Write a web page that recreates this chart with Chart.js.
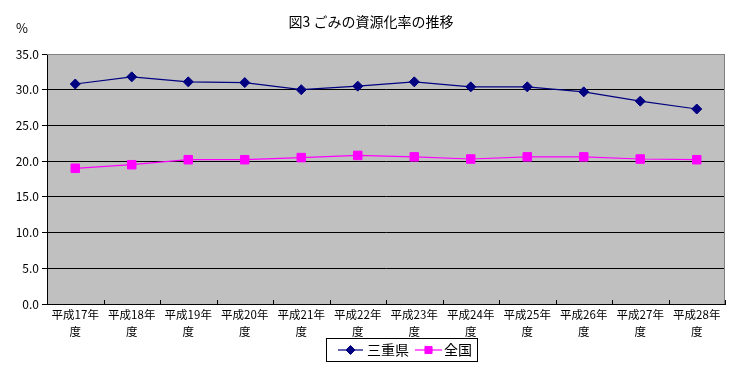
<!DOCTYPE html>
<html><head><meta charset="utf-8">
<script src="https://cdn.jsdelivr.net/npm/chart.js@4"></script>
<style>html,body{margin:0;padding:0;background:#fff}#wrap{width:740px;height:375px;position:relative}</style>
</head><body><div id="wrap"><canvas id="c" width="740" height="375"></canvas></div>
<script>
const categories = [['平成17年','度'],['平成18年','度'],['平成19年','度'],['平成20年','度'],['平成21年','度'],['平成22年','度'],['平成23年','度'],['平成24年','度'],['平成25年','度'],['平成26年','度'],['平成27年','度'],['平成28年','度']];
const mie = [30.8,31.8,31.1,31.0,30.0,30.5,31.1,30.4,30.4,29.7,28.4,27.3];
const zenkoku = [19.0,19.5,20.2,20.2,20.5,20.8,20.6,20.3,20.6,20.6,20.3,20.2];
const seriesNames = ['三重県','全国'];
const titleText = '図3 ごみの資源化率の推移';
const unitText = '%';
const FONT = '"Noto Sans CJK JP","DejaVu Sans",sans-serif';

const deco = {
  id:'deco',
  beforeDraw(chart){
    const {ctx, chartArea:a} = chart;
    ctx.save();
    ctx.fillStyle='#c0c0c0';
    ctx.fillRect(a.left,a.top,a.right-a.left,a.bottom-a.top);
    ctx.restore();
  },
  afterDraw(chart){
    const {ctx, chartArea:a} = chart;
    const xs = chart.scales.x;
    ctx.save();
    ctx.strokeStyle='#808080'; ctx.lineWidth=1;
    ctx.beginPath();
    ctx.moveTo(a.left,a.top+0.5); ctx.lineTo(a.right-0.5,a.top+0.5); ctx.lineTo(a.right-0.5,a.bottom);
    ctx.stroke();
    ctx.strokeStyle='#000';
    ctx.beginPath();
    for(let i=0;i<=categories.length;i++){
      let x;
      if(i===0) x=a.left; else if(i===categories.length) x=a.right;
      else x=(xs.getPixelForTick(i-1)+xs.getPixelForTick(i))/2;
      x=Math.round(x)+0.5;
      ctx.moveTo(x,a.bottom); ctx.lineTo(x,a.bottom-4);
    }
    ctx.stroke();
    ctx.fillStyle='#000';
    ctx.font='14px '+FONT; ctx.textAlign='center'; ctx.textBaseline='middle';
    ctx.fillText(titleText, 371, 22);
    ctx.font='13px '+FONT;
    ctx.fillText(unitText, 22, 28);
    // legend
    const lx=326, ly=338, lw=151, lh=23;
    ctx.fillStyle='#fff'; ctx.fillRect(lx,ly,lw,lh);
    ctx.strokeStyle='#000'; ctx.lineWidth=1; ctx.strokeRect(lx+0.5,ly+0.5,lw,lh);
    const cy=ly+lh/2+0.5;
    const items=[{x1:338,x2:363,tx:367,ds:chart.data.datasets[0],r:4.5},{x1:415,x2:442,tx:444,ds:chart.data.datasets[1],r:5}];
    items.forEach((it,i)=>{
      ctx.strokeStyle=it.ds.borderColor; ctx.lineWidth=1.2;
      ctx.beginPath(); ctx.moveTo(it.x1,cy); ctx.lineTo(it.x2,cy); ctx.stroke();
      ctx.fillStyle=it.ds.backgroundColor; ctx.strokeStyle=it.ds.borderColor; ctx.lineWidth=1;
      Chart.helpers.drawPoint(ctx,{pointStyle:it.ds.pointStyle,radius:it.r,borderWidth:1},(it.x1+it.x2)/2,cy);
      ctx.fillStyle='#000'; ctx.font='14px '+FONT; ctx.textAlign='left'; ctx.textBaseline='middle';
      ctx.fillText(seriesNames[i], it.tx, cy);
    });
    ctx.restore();
  }
};

new Chart(document.getElementById('c'),{
  type:'line',
  data:{labels:categories,datasets:[
    {label:seriesNames[0],data:mie,borderColor:'#000080',backgroundColor:'#000080',borderWidth:1.2,pointStyle:'rectRot',pointRadius:5,pointBorderWidth:1,tension:0},
    {label:seriesNames[1],data:zenkoku,borderColor:'#ff00ff',backgroundColor:'#ff00ff',borderWidth:1.2,pointStyle:'rect',pointRadius:6,pointBorderWidth:1,tension:0}
  ]},
  options:{
    responsive:false,animation:false,
    layout:{padding:{left:0,right:15,top:54,bottom:0}},
    plugins:{legend:{display:false},title:{display:false},tooltip:{enabled:false}},
    scales:{
      x:{offset:true,
        grid:{display:true,drawOnChartArea:false,drawTicks:false},
        border:{color:'#000',width:1},
        ticks:{color:'#000',font:{size:11.5,family:FONT,lineHeight:1.5},padding:2,maxRotation:0,autoSkip:false},
        afterFit(s){s.height=71;}
      },
      y:{min:0,max:35,
        grid:{color:(c)=>c.tick.value===35?'#808080':'#000',tickLength:5,tickColor:'#000'},
        border:{color:'#000',width:1},
        ticks:{stepSize:5,color:'#000',font:{size:12,family:FONT},padding:3,callback:v=>v.toFixed(1)},
        afterFit(s){s.width=47;}
      }
    }
  },
  plugins:[deco]
});
</script></body></html>
